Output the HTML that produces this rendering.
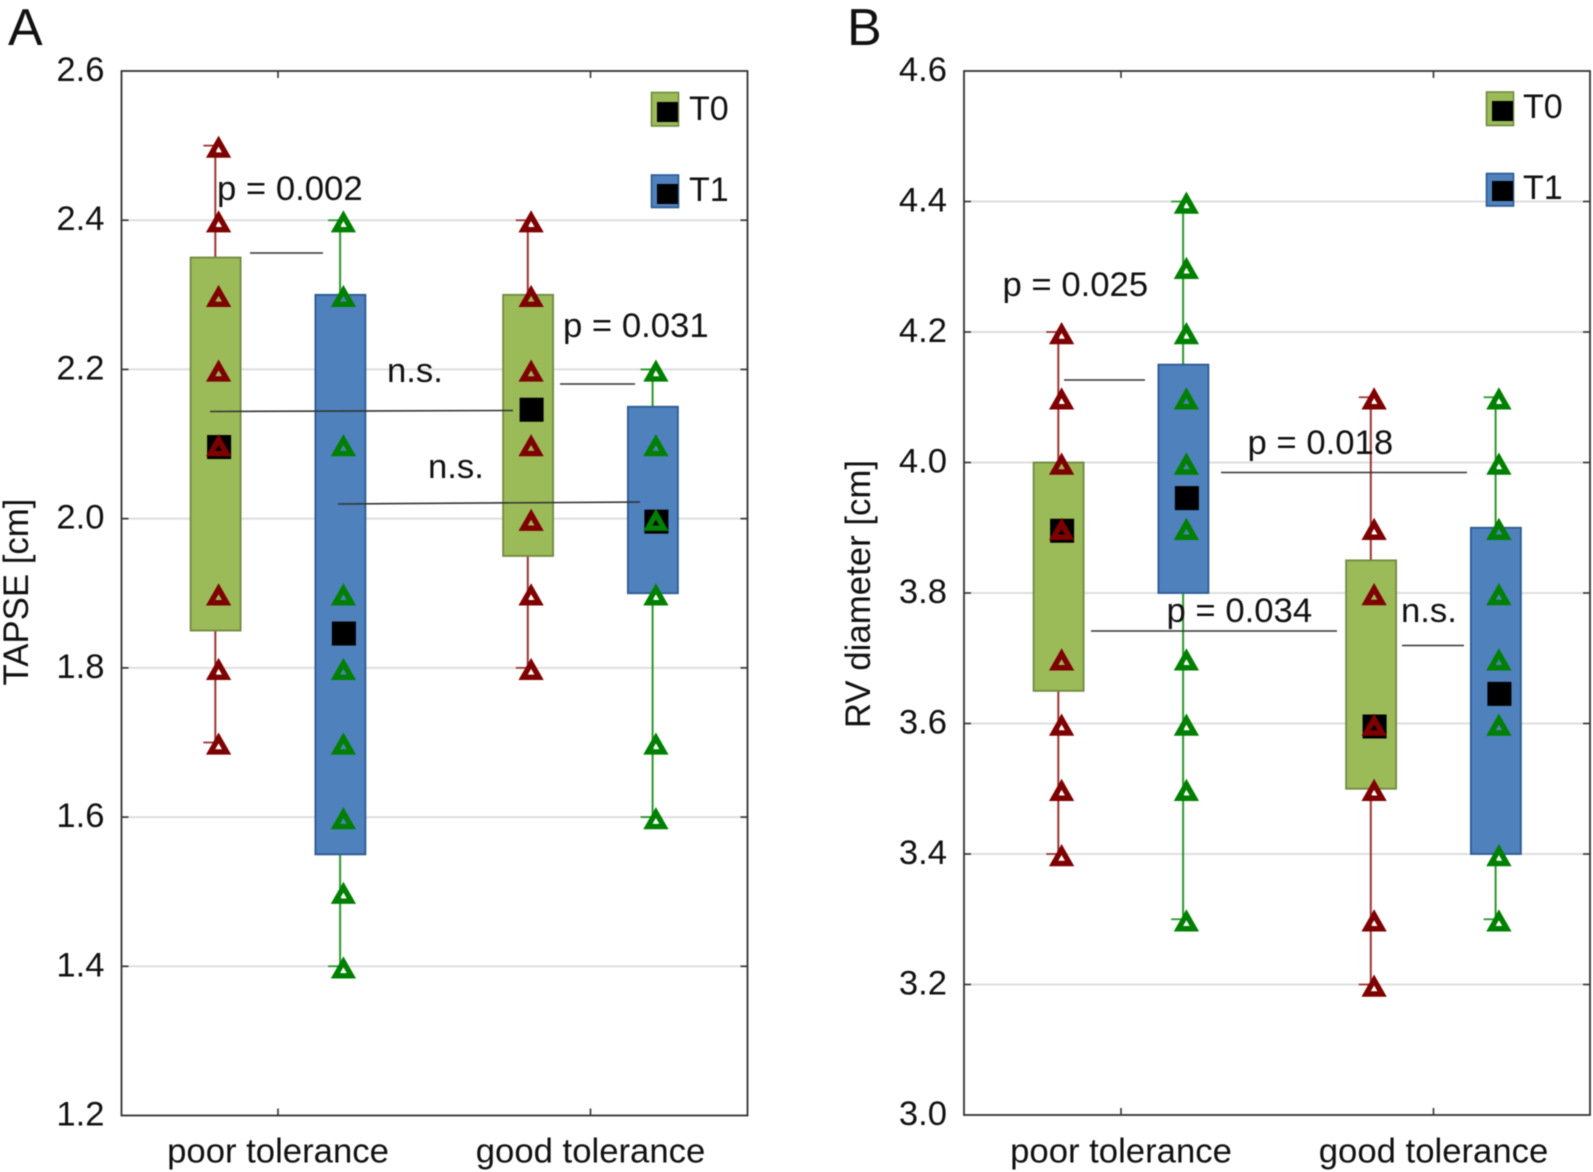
<!DOCTYPE html>
<html lang="en">
<head>
<meta charset="utf-8">
<title>TAPSE and RV diameter by tolerance</title>
<style>
html,body{margin:0;padding:0;background:#fff;width:1593px;height:1172px;overflow:hidden}
svg{display:block;font-family:"Liberation Sans",sans-serif;fill:#111;filter:blur(0.45px)}
</style>
</head>
<body>
<svg id="figure" width="1593" height="1172" viewBox="0 0 1593 1172" xmlns="http://www.w3.org/2000/svg">
<rect width="1593" height="1172" fill="#fff"/>
<g id="panel-a-layer"></g>
<g id="panel-b-layer"></g>

<text x="8" y="45" font-size="52">A</text>
<text x="847" y="45" font-size="52">B</text>

<text transform="translate(28,592) rotate(-90)" text-anchor="middle" font-size="34.8">TAPSE [cm]</text>
<text transform="translate(870,594) rotate(-90)" text-anchor="middle" font-size="34.8">RV diameter [cm]</text>

<g font-size="34.7">
<text x="217" y="200">p = 0.002</text>
<line x1="250" y1="253" x2="323" y2="253" stroke="#333" stroke-width="1.6"/>
<text x="387" y="382">n.s.</text>
<line x1="210" y1="411.5" x2="513" y2="410.5" stroke="#333" stroke-width="1.6"/>
<text x="563" y="337">p = 0.031</text>
<line x1="560" y1="384" x2="635" y2="384" stroke="#333" stroke-width="1.6"/>
<text x="428" y="478">n.s.</text>
<line x1="338" y1="504" x2="640" y2="502" stroke="#333" stroke-width="1.6"/>
</g>

<g font-size="34.7">
<text x="1002.5" y="296">p = 0.025</text>
<line x1="1064" y1="380" x2="1145" y2="380" stroke="#333" stroke-width="1.6"/>
<text x="1247.5" y="454">p = 0.018</text>
<line x1="1221" y1="472.5" x2="1467" y2="472.5" stroke="#333" stroke-width="1.6"/>
<text x="1166.5" y="622">p = 0.034</text>
<line x1="1091" y1="631" x2="1337" y2="631" stroke="#333" stroke-width="1.6"/>
<text x="1401" y="622">n.s.</text>
<line x1="1402" y1="645.5" x2="1464" y2="645.5" stroke="#333" stroke-width="1.6"/>
</g>

<g>
<g>
<rect x="651.5" y="92.5" width="27" height="33.5" fill="#9bbb59" stroke="#71893f" stroke-width="1.6"/>
<rect x="657" y="102" width="21" height="20" fill="#000"/>
<text x="689" y="120" font-size="34">T0</text>
</g>
<g>
<rect x="651.5" y="175" width="27" height="32.5" fill="#4f81bd" stroke="#2c5a94" stroke-width="1.6"/>
<rect x="657" y="184" width="21" height="20" fill="#000"/>
<text x="689" y="201" font-size="34">T1</text>
</g>
</g>

<g>
<g>
<rect x="1486.5" y="92" width="27" height="33.5" fill="#9bbb59" stroke="#71893f" stroke-width="1.6"/>
<rect x="1492" y="101" width="21" height="20" fill="#000"/>
<text x="1523" y="118" font-size="34">T0</text>
</g>
<g>
<rect x="1486.5" y="173.5" width="27" height="32.5" fill="#4f81bd" stroke="#2c5a94" stroke-width="1.6"/>
<rect x="1492" y="181" width="21" height="20" fill="#000"/>
<text x="1523" y="199" font-size="34">T1</text>
</g>
</g>
</svg>

<script>
// Shared
const categories = ['poor tolerance', 'good tolerance'];
const seriesNames = ['T0', 'T1'];

// Panel A: TAPSE [cm]
const aTicks = ['1.2', '1.4', '1.6', '1.8', '2.0', '2.2', '2.4', '2.6'];
const aPoorT0Box = [1.85, 2.35];
const aPoorT1Box = [1.55, 2.3];
const aGoodT0Box = [1.95, 2.3];
const aGoodT1Box = [1.9, 2.15];
const aMeans = [2.1, 1.85, 2.15, 2.0];
const aPoorT0 = [2.5, 2.4, 2.3, 2.2, 2.1, 1.9, 1.8, 1.7];
const aPoorT1 = [2.4, 2.3, 2.1, 1.9, 1.8, 1.7, 1.6, 1.5, 1.4];
const aGoodT0 = [2.4, 2.3, 2.2, 2.1, 2.0, 1.9, 1.8];
const aGoodT1 = [2.2, 2.1, 2.0, 1.9, 1.7, 1.6];

// Panel B: RV diameter [cm]
const bTicks = ['3.0', '3.2', '3.4', '3.6', '3.8', '4.0', '4.2', '4.4', '4.6'];
const bPoorT0Box = [3.65, 4.0];
const bPoorT1Box = [3.8, 4.15];
const bGoodT0Box = [3.5, 3.85];
const bGoodT1Box = [3.4, 3.9];
const bMeans = [3.9, 3.95, 3.6, 3.65];
const bPoorT0 = [4.2, 4.1, 4.0, 3.9, 3.7, 3.6, 3.5, 3.4];
const bPoorT1 = [4.4, 4.3, 4.2, 4.1, 4.0, 3.9, 3.7, 3.6, 3.5, 3.3];
const bGoodT0 = [4.1, 3.9, 3.8, 3.6, 3.5, 3.3, 3.2];
const bGoodT1 = [4.1, 4.0, 3.9, 3.8, 3.7, 3.6, 3.4, 3.3];

const NS = 'http://www.w3.org/2000/svg';
const COLORS = [
  {fill: '#9bbb59', edge: '#71893f', mark: '#7f0000', whisker: '#9a3333'},
  {fill: '#4f81bd', edge: '#2c5a94', mark: '#008000', whisker: '#2c962c'}
];

function el(parent, tag, attrs, text) {
  const node = document.createElementNS(NS, tag);
  Object.keys(attrs).forEach(function (k) { node.setAttribute(k, attrs[k]); });
  if (text !== undefined) node.textContent = text;
  parent.appendChild(node);
  return node;
}

function drawPanel(layer, frame, ticks, boxes, means, points) {
  const lo = parseFloat(ticks[0]);
  const hi = parseFloat(ticks[ticks.length - 1]);
  const yScale = function (v) {
    return frame.bottom - (v - lo) / (hi - lo) * (frame.bottom - frame.top);
  };
  const catX = function (c) { return frame.cat0 + c * frame.catStep; };
  const serX = function (c, s) { return catX(c) + (s === 0 ? -62.4 : 62.4); };

  ticks.forEach(function (label) {
    const v = parseFloat(label);
    const y = yScale(v);
    if (v > lo && v < hi) {
      const grid = el(layer, 'line', {x1: frame.left, x2: frame.right, y1: y, y2: y, stroke: '#dedede', 'stroke-width': 2});
      
      
      const tl = el(layer, 'line', {x1: frame.left, x2: frame.left + 7, y1: y, y2: y, stroke: '#333', 'stroke-width': 1.6});
      
      
      const tr = el(layer, 'line', {x1: frame.right - 7, x2: frame.right, y1: y, y2: y, stroke: '#333', 'stroke-width': 1.6});
      
      
    }
    const t = el(layer, 'text', {x: frame.left - 17, y: y + 10, 'text-anchor': 'end', 'font-size': 34.6}, label);
    
    
  });

  categories.forEach(function (name, c) {
    const x = catX(c);
    const tb = el(layer, 'line', {x1: x, x2: x, y1: frame.bottom - 7, y2: frame.bottom, stroke: '#333', 'stroke-width': 1.6});
    
    
    const tt = el(layer, 'line', {x1: x, x2: x, y1: frame.top, y2: frame.top + 7, stroke: '#333', 'stroke-width': 1.6});
    
    
    const t = el(layer, 'text', {x: x, y: 1162.5, 'text-anchor': 'middle', 'font-size': 34.7}, name);
    
    
  });

  const border = el(layer, 'rect', {x: frame.left, y: frame.top, width: frame.right - frame.left, height: frame.bottom - frame.top, fill: 'none', stroke: '#333', 'stroke-width': 1.8});
  
  

  // whiskers and caps first, then boxes, then means, then raw points
  points.forEach(function (vals, i) {
    const c = Math.floor(i / 2), s = i % 2;
    const x = serX(c, s) - 0.3;
    const top = yScale(Math.max.apply(null, vals));
    const bottom = yScale(Math.min.apply(null, vals));
    const w = el(layer, 'line', {x1: x, x2: x, y1: top, y2: bottom, stroke: COLORS[s].whisker, 'stroke-width': 2});
    
    
    [top, bottom].forEach(function (capY) {
      const cap = el(layer, 'line', {x1: x - 12, x2: x + 6, y1: capY, y2: capY, stroke: COLORS[s].whisker, 'stroke-width': 1.8});
      
      
    });
  });

  boxes.forEach(function (range, i) {
    const c = Math.floor(i / 2), s = i % 2;
    const x = serX(c, s);
    const b = el(layer, 'rect', {x: x - 25, y: yScale(range[1]), width: 50, height: yScale(range[0]) - yScale(range[1]), fill: COLORS[s].fill, stroke: COLORS[s].edge, 'stroke-width': 1.8});
    
    
  });

  means.forEach(function (v, i) {
    const c = Math.floor(i / 2), s = i % 2;
    const x = serX(c, s) + 3.5;
    const y = yScale(v) + 3;
    const m = el(layer, 'rect', {x: x - 12, y: y - 12, width: 24, height: 24, fill: '#000'});
    
    
  });

  points.forEach(function (vals, i) {
    const c = Math.floor(i / 2), s = i % 2;
    const x = serX(c, s) + 3;
    vals.forEach(function (v) {
      const y = yScale(v);
      const d = 'M' + x + ' ' + (y - 4.5) + 'L' + (x + 8) + ' ' + (y + 9.5) + 'L' + (x - 8) + ' ' + (y + 9.5) + 'Z';
      const p = el(layer, 'path', {d: d, fill: 'none', stroke: COLORS[s].mark, 'stroke-width': 5.4, 'stroke-linejoin': 'miter', 'stroke-miterlimit': 6});
      
      
    });
  });
}

drawPanel(document.getElementById('panel-a-layer'),
  {left: 121.5, right: 747.5, top: 71, bottom: 1115.5, cat0: 278, catStep: 312.5},
  aTicks,
  [aPoorT0Box, aPoorT1Box, aGoodT0Box, aGoodT1Box],
  aMeans,
  [aPoorT0, aPoorT1, aGoodT0, aGoodT1]);

drawPanel(document.getElementById('panel-b-layer'),
  {left: 964, right: 1590, top: 71, bottom: 1115, cat0: 1121, catStep: 312.5},
  bTicks,
  [bPoorT0Box, bPoorT1Box, bGoodT0Box, bGoodT1Box],
  bMeans,
  [bPoorT0, bPoorT1, bGoodT0, bGoodT1]);
</script>
</body>
</html>
